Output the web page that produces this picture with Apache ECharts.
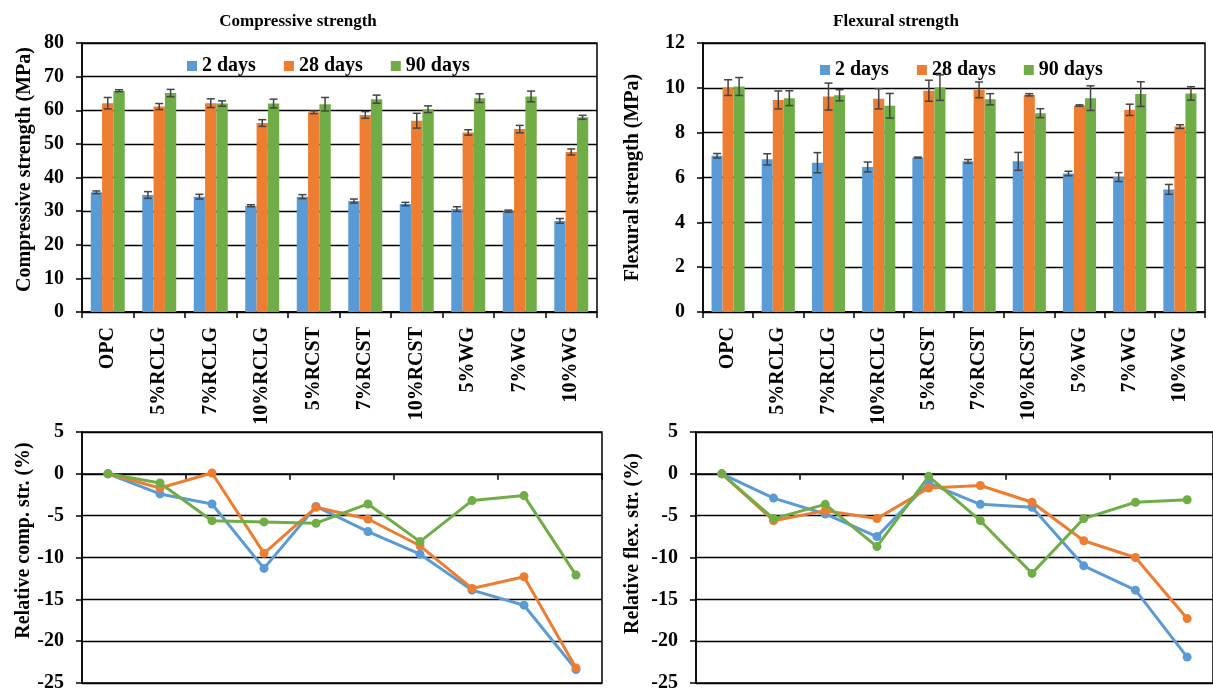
<!DOCTYPE html>
<html lang="en">
<head>
    <meta charset="UTF-8">
    <title>Compressive and flexural strength</title>
    <script type="text/javascript" src="https://cdn.jsdelivr.net/npm/echarts@6/dist/echarts.min.js"></script>
    <style>
        body { margin: 0; background: #fff; }
        #main { width: 1213px; height: 693px; }
    </style>
</head>
<body>
<div id="main"></div>

<script type="text/javascript">
    // mixes on the x axis
    var categories = ['OPC', '5%RCLG', '7%RCLG', '10%RCLG', '5%RCST', '7%RCST', '10%RCST', '5%WG', '7%WG', '10%WG'];
    var seriesNames = ['2 days', '28 days', '90 days'];

    // compressive strength (MPa) and error bar half-widths
    var comp2 = [35.6, 34.8, 34.3, 31.6, 34.3, 33.0, 32.1, 30.6, 30.0, 27.1];
    var comp28 = [62.1, 61.1, 62.1, 56.2, 59.4, 58.6, 56.9, 53.4, 54.4, 47.6];
    var comp90 = [65.8, 65.1, 62.0, 62.0, 61.8, 63.3, 60.3, 63.6, 64.1, 57.9];
    var compErr2 = [0.4, 1.0, 0.7, 0.3, 0.6, 0.6, 0.5, 0.7, 0.3, 0.7];
    var compErr28 = [1.7, 0.9, 1.3, 1.0, 0.4, 1.0, 2.2, 0.8, 1.1, 0.9];
    var compErr90 = [0.3, 1.1, 0.8, 1.3, 2.0, 1.2, 1.0, 1.3, 1.6, 0.6];

    // flexural strength (MPa) and error bar half-widths
    var flex2 = [6.97, 6.81, 6.66, 6.47, 6.89, 6.72, 6.72, 6.18, 6.02, 5.47];
    var flex28 = [10.01, 9.46, 9.61, 9.51, 9.87, 9.91, 9.69, 9.21, 9.02, 8.27];
    var flex90 = [10.06, 9.54, 9.67, 9.20, 10.01, 9.49, 8.87, 9.54, 9.72, 9.75];
    var flexErr2 = [0.1, 0.25, 0.45, 0.22, 0.02, 0.08, 0.4, 0.1, 0.2, 0.22];
    var flexErr28 = [0.35, 0.4, 0.6, 0.45, 0.47, 0.35, 0.05, 0.03, 0.25, 0.08];
    var flexErr90 = [0.4, 0.33, 0.25, 0.55, 0.57, 0.25, 0.2, 0.55, 0.55, 0.3];

    // relative change vs OPC (%)
    var relComp2 = [0, -2.4, -3.6, -11.3, -3.9, -6.9, -9.6, -13.9, -15.7, -23.4];
    var relComp28 = [0, -1.7, 0.1, -9.5, -4.0, -5.4, -8.6, -13.7, -12.3, -23.2];
    var relComp90 = [0, -1.1, -5.6, -5.75, -5.9, -3.6, -8.1, -3.2, -2.6, -12.1];
    var relFlex2 = [0, -2.9, -4.8, -7.5, -1.1, -3.65, -4.0, -11.0, -13.9, -21.9];
    var relFlex28 = [0, -5.6, -4.4, -5.35, -1.7, -1.4, -3.4, -8.0, -10.0, -17.3];
    var relFlex90 = [0, -5.35, -3.65, -8.7, -0.3, -5.6, -11.9, -5.35, -3.4, -3.1];

    var colors = ['#5B9BD5', '#ED7D31', '#70AD47'];
    var FONT = "'Liberation Serif', 'Times New Roman', serif";
    var BAR_CAT_GAP = 0.34;

    var myChart = echarts.init(document.getElementById('main'));

    var labelStyle = { fontFamily: FONT, fontWeight: 'bold', fontSize: 20, color: '#000' };
    var blackLine = { color: '#000', width: 1.5 };

    function barXAxis(gridIndex) {
        return {
            type: 'category', gridIndex: gridIndex, data: categories,
            axisLine: { lineStyle: blackLine },
            axisTick: { show: true, length: 6, lineStyle: blackLine },
            axisLabel: Object.assign({ rotate: 90, interval: 0, margin: 15 }, labelStyle)
        };
    }

    function lineXAxis(gridIndex) {
        return {
            type: 'category', gridIndex: gridIndex, data: categories,
            axisLine: { onZero: true, lineStyle: blackLine },
            axisTick: { show: true, length: 6, lineStyle: blackLine },
            axisLabel: { show: false }
        };
    }

    function valueYAxis(gridIndex, min, max, step, name, gap, shift) {
        return {
            type: 'value', gridIndex: gridIndex, min: min, max: max, interval: step,
            name: name, nameLocation: 'middle', nameGap: gap,
            nameTextStyle: Object.assign({ padding: [0, 0, 0, shift] }, labelStyle),
            axisLine: { show: true, lineStyle: blackLine },
            axisTick: { show: true, length: 6, lineStyle: blackLine },
            axisLabel: Object.assign({ margin: 18 }, labelStyle),
            splitLine: { lineStyle: { color: '#000', width: 1.3 } }
        };
    }

    function barSeries(idx, gridIndex, values) {
        return {
            name: seriesNames[idx], type: 'bar',
            xAxisIndex: gridIndex, yAxisIndex: gridIndex,
            data: values, barGap: '0%', barCategoryGap: (BAR_CAT_GAP * 100) + '%',
            itemStyle: { color: colors[idx] },
            z: 2
        };
    }

    // error bars drawn on top of each bar
    function errorSeries(idx, gridIndex, values, errs) {
        return {
            type: 'custom', name: 'err' + gridIndex + idx,
            xAxisIndex: gridIndex, yAxisIndex: gridIndex,
            data: values.map(function (v, i) { return [i, v - errs[i], v + errs[i]]; }),
            renderItem: function (params, api) {
                var lo = api.coord([api.value(0), api.value(1)]);
                var hi = api.coord([api.value(0), api.value(2)]);
                var band = api.size([1, 0])[0];
                var bw = band * (1 - BAR_CAT_GAP) / 3;
                var x = lo[0] + (idx - 1) * bw;
                var cap = 4;
                var st = { stroke: '#444', lineWidth: 1.5 };
                return {
                    type: 'group', children: [
                        { type: 'line', shape: { x1: x, y1: lo[1], x2: x, y2: hi[1] }, style: st },
                        { type: 'line', shape: { x1: x - cap, y1: lo[1], x2: x + cap, y2: lo[1] }, style: st },
                        { type: 'line', shape: { x1: x - cap, y1: hi[1], x2: x + cap, y2: hi[1] }, style: st }
                    ]
                };
            },
            z: 5
        };
    }

    function lineSeries(idx, gridIndex, values) {
        return {
            name: seriesNames[idx], type: 'line',
            xAxisIndex: gridIndex, yAxisIndex: gridIndex,
            data: values, symbol: 'circle', symbolSize: 9,
            lineStyle: { color: colors[idx], width: 3 },
            itemStyle: { color: colors[idx] }
        };
    }

    function legendAt(left, top) {
        return {
            left: left, top: top, data: seriesNames,
            icon: 'rect', itemWidth: 10, itemHeight: 10, itemGap: 28,
            textStyle: { fontFamily: FONT, fontWeight: 'bold', fontSize: 20, color: '#000' }
        };
    }

    var gridBox = { show: true, borderColor: '#000', borderWidth: 1.5, backgroundColor: 'transparent' };

    myChart.setOption({
        animation: false,
        title: [
            { text: 'Compressive strength', left: 293, top: 8, textAlign: 'center',
              textStyle: { fontFamily: FONT, fontWeight: 'bold', fontSize: 17, color: '#000' } },
            { text: 'Flexural strength', left: 891, top: 8, textAlign: 'center',
              textStyle: { fontFamily: FONT, fontWeight: 'bold', fontSize: 17, color: '#000' } }
        ],
        legend: [legendAt(182, 51), legendAt(815, 55)],
        grid: [
            Object.assign({ left: 82, top: 43, width: 515, height: 269 }, gridBox),
            Object.assign({ left: 703, top: 43, width: 502, height: 269 }, gridBox),
            Object.assign({ left: 82, top: 432, width: 520, height: 251 }, gridBox),
            Object.assign({ left: 696, top: 432, width: 522, height: 251 }, gridBox)
        ],
        xAxis: [barXAxis(0), barXAxis(1), lineXAxis(2), lineXAxis(3)],
        yAxis: [
            valueYAxis(0, 0, 80, 10, 'Compressive strength (MPa)', 47, 16),
            valueYAxis(1, 0, 12, 2, 'Flexural strength (MPa)', 60, 0),
            valueYAxis(2, -25, 5, 5, 'Relative comp. str. (%)', 47, 34),
            valueYAxis(3, -25, 5, 5, 'Relative flex. str. (%)', 53, 28)
        ],
        series: [
            barSeries(0, 0, comp2), barSeries(1, 0, comp28), barSeries(2, 0, comp90),
            errorSeries(0, 0, comp2, compErr2), errorSeries(1, 0, comp28, compErr28), errorSeries(2, 0, comp90, compErr90),
            barSeries(0, 1, flex2), barSeries(1, 1, flex28), barSeries(2, 1, flex90),
            errorSeries(0, 1, flex2, flexErr2), errorSeries(1, 1, flex28, flexErr28), errorSeries(2, 1, flex90, flexErr90),
            lineSeries(0, 2, relComp2), lineSeries(1, 2, relComp28), lineSeries(2, 2, relComp90),
            lineSeries(0, 3, relFlex2), lineSeries(1, 3, relFlex28), lineSeries(2, 3, relFlex90)
        ]
    });
</script>
</body>
</html>
